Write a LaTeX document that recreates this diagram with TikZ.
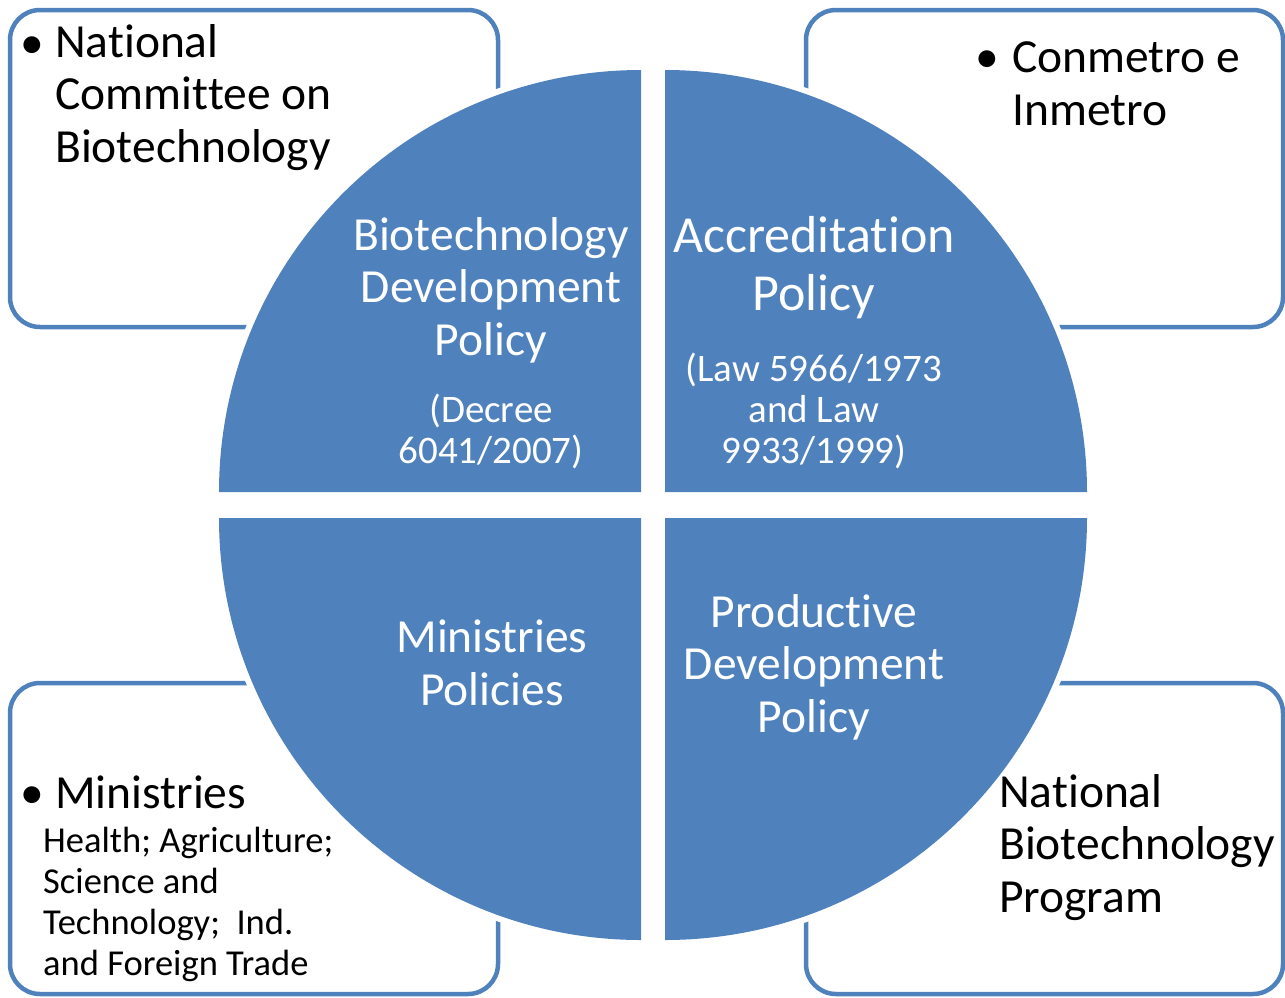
\documentclass[tikz,border=0pt]{standalone}
\usepackage{fontspec}
\setmainfont{Carlito}
\definecolor{accent}{HTML}{4F81BD}
\newcommand\tii{t\kern0pt i}
\newcommand\ttt{t\kern0pt t}
\tikzset{
  box/.style={draw=accent, line width=4.5pt, rounded corners=30pt},
  quad/.style={fill=accent, preaction={draw=white, line width=12pt}},
  big/.style={font=\fontsize{47.5}{52.5}\selectfont},
  huge/.style={font=\fontsize{52}{58}\selectfont},
  small/.style={font=\fontsize{39}{41}\selectfont},
  list/.style={font=\fontsize{36.5}{41}\selectfont},
  intxt/.style={anchor=base, align=center, text=white},
  outtxt/.style={anchor=base west, align=left, text=black}
}
\begin{document}
\begin{tikzpicture}[x=1pt, y=-1pt, every node/.style={inner sep=0pt}]
\useasboundingbox (0,0) rectangle (1285,997);
% corner boxes
\foreach \xa/\ya/\xb/\yb in {10/10/498/327, 806/10/1283/327, 10/683/498/994, 806/683/1283/994}
  \draw[box] (\xa,\ya) rectangle (\xb,\yb);
% the four quarters of the circle
\foreach \cx/\cy/\s in {641/492/180, 665/492/270, 665/518/0, 641/518/90}
  \fill[quad] (\cx,\cy) -- ++(\s:422) arc[start angle=\s, end angle=\s+90, radius=422] -- cycle;

% texts, placed by the baseline of their last line
\node[big, intxt] (bdp) at (491,355) {Biotechnology\\Development\\Policy};
\node[small, intxt] (decree) at (491,463) {(Decree\\6041/2007)};
\node[huge, intxt] (accr) at (814,310) {Accredita\tii on\\Policy};
\node[small, intxt] (laws) at (814,463) {(Law 5966/1973\\and Law\\9933/1999)};
\node[big, intxt] (minpol) at (492,705) {Ministries\\Policies};
\node[big, intxt] (pdp) at (814,732) {Produc\tii ve\\Development\\Policy};

\node[big, outtxt] (dot1) at (20,58) {\textbullet};
\node[big, outtxt] (ncb) at (55,162) {Na\tii onal\\Commi\ttt ee on\\Biotechnology};
\node[big, outtxt] (dot2) at (975,72) {\textbullet};
\node[big, outtxt] (inm) at (1012,125) {Conmetro e\\Inmetro};
\node[big, outtxt] (dot3) at (20,808) {\textbullet};
\node[big, outtxt] (mins) at (55,808) {Ministries};
\node[list, outtxt] (minlist) at (43,975) {Health; Agriculture;\\Science and\\Technology;~~Ind.\\and Foreign Trade};
\node[big, outtxt] (nbp) at (999,912) {Na\tii onal\\Biotechnology\\Program};
\end{tikzpicture}
\end{document}
